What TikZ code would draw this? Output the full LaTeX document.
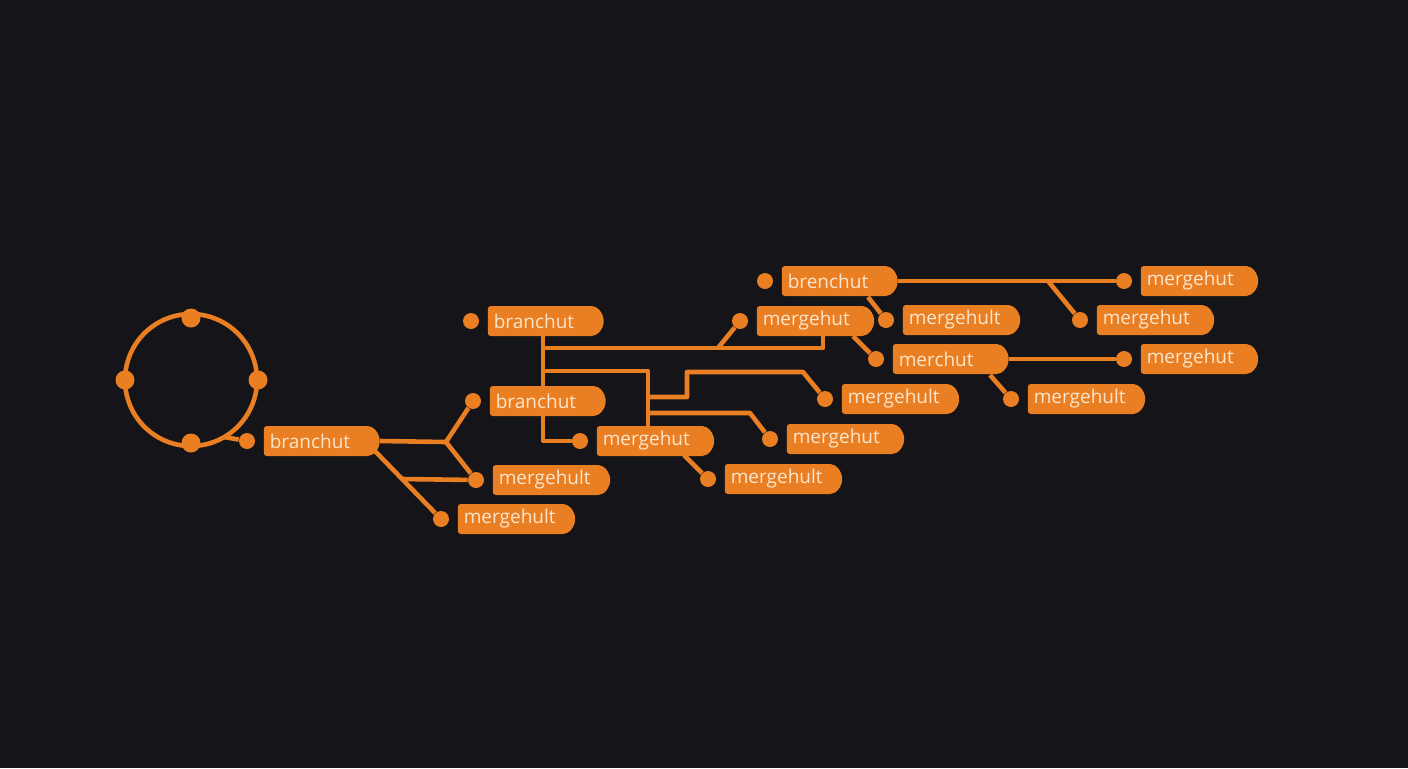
\documentclass[tikz,border=0pt]{standalone}
\usepackage{fontspec}
\setmainfont{Open Sans}
\usetikzlibrary{shapes.misc,positioning}

\definecolor{bgdark}{HTML}{141419}
\definecolor{hutorange}{HTML}{E97E23}
\definecolor{hutcream}{HTML}{FBE6CC}

\pgfdeclarelayer{backdrop}
\pgfdeclarelayer{wires}
\pgfsetlayers{backdrop,wires,main}

\tikzset{
  hut/.style={rounded rectangle, rounded rectangle left arc=none, fill=hutorange,
    rounded corners=1.5pt, text=hutcream, minimum height=15pt, text width=51pt,
    align=left, inner xsep=3pt, inner ysep=0pt, font=\fontsize{9.5}{11}\selectfont},
  pin/.style={circle, fill=hutorange, inner sep=0pt, minimum size=8pt},
  ringpin/.style={pin, minimum size=9.5pt},
  wire/.style={draw=hutorange, line width=2.3pt, line join=round},
}

\begin{document}
\begin{tikzpicture}[x=0.5pt,y=-0.5pt]
  \begin{pgfonlayer}{backdrop}
    \fill[bgdark] (0,0) rectangle (1408,768);
  \end{pgfonlayer}
  \useasboundingbox (0,0) rectangle (1408,768);

  % ring
  \node[ringpin] (c1) at (191,318) {};
  \node[ringpin] (c2) at (125,380) {};
  \node[ringpin] (c3) at (258,380) {};
  \node[ringpin] (c4) at (191,443) {};
  \coordinate (cj) at (224,437);

  % pins
  \node[pin] (d1) at (247,441) {};
  \node[pin] (d2) at (471,321) {};
  \node[pin] (d3) at (473,401) {};
  \node[pin] (d4) at (476,480) {};
  \node[pin] (d5) at (441,519) {};
  \node[pin] (d6) at (580,441) {};
  \node[pin] (d7) at (708,479) {};
  \node[pin] (d8) at (770,439) {};
  \node[pin] (d9) at (825,399) {};
  \node[pin] (d10) at (740,321) {};
  \node[pin] (d11) at (765,281) {};
  \node[pin] (d12) at (886,320) {};
  \node[pin] (d13) at (876,359) {};
  \node[pin] (d14) at (1011,399) {};
  \node[pin] (d15) at (1124,281) {};
  \node[pin] (d16) at (1080,320) {};
  \node[pin] (d17) at (1124,359) {};

  % labels
  \node[hut, right=4pt of d1] (b1) {branchut};
  \node[hut, right=4pt of d2] (b2) {branchut};
  \node[hut, right=4pt of d3] (b3) {branchut};
  \node[hut, right=4pt of d4] (m4) {mergehult};
  \node[hut, right=4pt of d5] (m5) {mergehult};
  \node[hut, right=4pt of d6] (m6) {mergehut};
  \node[hut, right=4pt of d7] (m7) {mergehult};
  \node[hut, right=4pt of d8] (m8) {mergehut};
  \node[hut, right=4pt of d9] (m9) {mergehult};
  \node[hut, right=4pt of d10] (m10) {mergehut};
  \node[hut, right=4pt of d11] (b11) {brenchut};
  \node[hut, right=4pt of d12] (m12) {mergehult};
  \node[hut, right=4pt of d13] (m13) {merchut};
  \node[hut, right=4pt of d14] (m14) {mergehult};
  \node[hut, right=4pt of d15] (m15) {mergehut};
  \node[hut, right=4pt of d16] (m16) {mergehut};
  \node[hut, right=4pt of d17] (m17) {mergehut};

  % junctions
  \coordinate (j1) at (446,442);
  \coordinate (j2) at (372,448);
  \coordinate (j3) at (402,479);
  \coordinate (t1) at (543,348);
  \coordinate (t2) at (543,371);
  \coordinate (k1) at (823,348);
  \coordinate (k2) at (718,348);
  \coordinate (s1) at (648,371);
  \coordinate (s2) at (648,397);
  \coordinate (s3) at (648,413);
  \coordinate (s4) at (687,372);
  \coordinate (s5) at (803,372);
  \coordinate (s6) at (750,413);
  \coordinate (e6) at (684,455);
  \coordinate (e10) at (853,336);
  \coordinate (e11) at (868,297);
  \coordinate (e13) at (990,375);
  \coordinate (h1) at (1048,281);

  % wires
  \begin{pgfonlayer}{wires}
    \draw[wire] (191,380) circle [radius=33pt];
    \draw[wire] (cj) -- (d1);
    \draw[wire] (b1.east) -- (j1) -- (d3);
    \draw[wire] (j1) -- (d4);
    \draw[wire] (j2) -- (d5);
    \draw[wire] (j3) -- (d4);
    \draw[wire] (b2.south -| t1) -- (t1 |- d6) -- (d6);
    \draw[wire] (t1) -- (k1) -- (k1 |- m10.south);
    \draw[wire] (k2) -- (d10);
    \draw[wire] (t2) -- (s1) -- (s1 |- m6.north);
    \draw[wire] (s2) -- (s2 -| s4) -- (s4) -- (s5) -- (d9);
    \draw[wire] (s3) -- (s6) -- (d8);
    \draw[wire] (e6) -- (d7);
    \draw[wire] (e10) -- (d13);
    \draw[wire] (e11) -- (d12);
    \draw[wire] (b11.east) -- (d15);
    \draw[wire] (h1) -- (d16);
    \draw[wire] (m13.east) -- (d17);
    \draw[wire] (e13) -- (d14);
  \end{pgfonlayer}
\end{tikzpicture}
\end{document}
